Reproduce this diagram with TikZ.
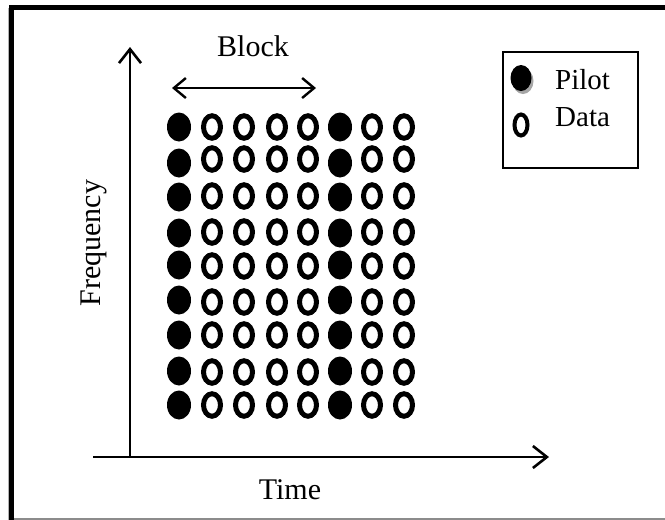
\documentclass[tikz,border=0pt]{standalone}
\usepackage{fontspec}
\setmainfont{Liberation Serif}
\usetikzlibrary{arrows.meta,shapes.geometric}
\begin{document}
\begin{tikzpicture}[x=1pt,y=-1pt,
  axis/.style={line width=2.6pt, -{Straight Barb[length=14pt,width=22pt]}},
  span/.style={line width=2.4pt, {Straight Barb[length=12pt,width=20pt]}-{Straight Barb[length=12pt,width=20pt]}},
  pilot/.style={ellipse, fill=black, minimum width=24pt, minimum height=29pt, inner sep=0pt},
  datum/.style={ellipse, draw=black, line width=5pt, minimum width=17pt, minimum height=22.5pt, inner sep=0pt},
  lbl/.style={font=\fontsize{30}{36}\selectfont, inner sep=0pt},
  keytext/.style={font=\fontsize{29}{34}\selectfont, inner sep=0pt, anchor=base west}]

\useasboundingbox (0,0) rectangle (665,520);
\fill[white] (0,0) rectangle (665,520);

% page frame: heavy left and top edges, thin grey bottom edge
\draw[gray!60, line width=1pt] (8,8) -- (8,520);
\draw[black!45, line width=2pt] (9,518.5) -- (665,518.5);
\draw[black, line width=5pt] (11.5,520) -- (11.5,7.5) -- (665,7.5);

% axes
\coordinate (yfoot) at (130,457);
\coordinate (ytip) at (130,47);
\coordinate (xstart) at (93,457);
\coordinate (xtip) at (549,457);
\draw[axis] (yfoot) -- (ytip);
\draw[axis] (xstart) -- (xtip);
\node[lbl] (time) at (290,490) {Time};
\node[lbl, rotate=90] (freq) at (94,243) {Frequency};

% block width marker
\coordinate (bl) at (172,88);
\coordinate (br) at (316,88);
\draw[span] (bl) -- (br);
\node[lbl] (block) at (253,46) {Block};

% pilot / data grid: 9 subcarriers x 8 symbols, pilots in symbols 1 and 6
\foreach \r/\yy/\py in {1/127/127, 2/159/163, 3/196/197, 4/232/233, 5/266/265, 6/302/300, 7/335/335, 8/372/371, 9/405/405}{
  \foreach \c/\xx in {1/179, 2/212, 3/244, 4/277, 5/308, 6/340, 7/372, 8/404}{
    \ifnum\c=1
      \node[pilot] (g-\r-\c) at (\xx,\py) {};
    \else\ifnum\c=6
      \node[pilot] (g-\r-\c) at (\xx,\py) {};
    \else
      \node[datum] (g-\r-\c) at (\xx,\yy) {};
    \fi\fi
  }
}

% legend
\node[draw=black, line width=2pt, minimum width=135pt, minimum height=116pt, inner sep=0pt] (legend) at (570.5,110) {};
\node[ellipse, fill=gray!70, minimum width=21pt, minimum height=26pt, inner sep=0pt] (keyshadow) at (523,81) {};
\node[ellipse, fill=black, minimum width=21pt, minimum height=26pt, inner sep=0pt] (keypilot) at (521,78) {};
\node[ellipse, draw=black, line width=4pt, minimum width=13pt, minimum height=21pt, inner sep=0pt] (keydata) at (521,125) {};
\node[keytext] (pilottext) at (555,89) {Pilot};
\node[keytext] (datatext) at (555,126) {Data};
\end{tikzpicture}
\end{document}
